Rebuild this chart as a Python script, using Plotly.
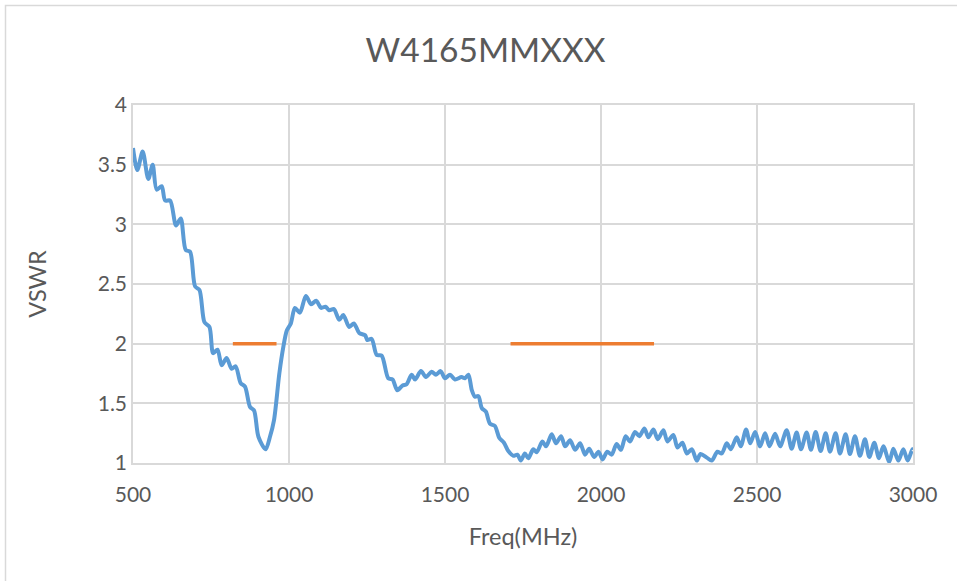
import plotly.graph_objects as go

# ---- data ----
freq_mhz = [
    500, 514, 531, 549, 563, 576, 592, 603, 619, 638, 653, 669, 683, 699, 713, 729, 745,
    757, 771, 784, 800, 816, 829, 845, 859, 875, 888, 902, 925, 939, 952, 969, 982, 993,
    1006, 1019, 1035, 1054, 1071, 1087, 1103, 1117, 1129, 1144, 1161, 1174, 1193, 1208,
    1225, 1244, 1251, 1265, 1281, 1297, 1318, 1332, 1347, 1364, 1377, 1393, 1404, 1423,
    1439, 1457, 1471, 1486, 1500, 1516, 1532, 1553, 1564, 1575, 1586, 1596, 1607, 1618,
    1631, 1644, 1660, 1674, 1689, 1703, 1719, 1732, 1743, 1756, 1767, 1783, 1794, 1812,
    1824, 1842, 1856, 1872, 1885, 1901, 1917, 1933, 1949, 1962, 1978, 1992, 2005, 2020,
    2034, 2050, 2064, 2079, 2093, 2109, 2123, 2139, 2152, 2168, 2182, 2200, 2213, 2232,
    2245, 2261, 2275, 2291, 2307, 2319, 2339, 2355, 2373, 2387, 2403, 2416, 2435, 2448,
    2465, 2478, 2494, 2510, 2526, 2540, 2558, 2574, 2595, 2611, 2627, 2641, 2659, 2673,
    2688, 2704, 2720, 2734, 2752, 2766, 2784, 2798, 2814, 2830, 2846, 2860, 2876, 2891,
    2905, 2924, 2937, 2953, 2969, 2983, 2998, 3000,
]
vswr = [
    3.64, 3.455, 3.61, 3.38, 3.50, 3.29, 3.32, 3.20, 3.20, 2.99, 3.05, 2.785, 2.77, 2.48, 2.45, 2.18, 2.14,
    1.92, 1.95, 1.82, 1.88, 1.79, 1.81, 1.67, 1.64, 1.47, 1.44, 1.22, 1.115, 1.22, 1.36, 1.75, 1.975, 2.11,
    2.17, 2.30, 2.26, 2.40, 2.33, 2.36, 2.30, 2.31, 2.28, 2.29, 2.20, 2.24, 2.14, 2.17,
    2.09, 2.07, 2.03, 2.04, 1.905, 1.90, 1.71, 1.70, 1.61, 1.65, 1.66, 1.74, 1.70, 1.77,
    1.72, 1.765, 1.74, 1.77, 1.71, 1.74, 1.70, 1.72, 1.71, 1.74, 1.61, 1.555, 1.56, 1.46,
    1.43, 1.33, 1.31, 1.21, 1.17, 1.10, 1.06, 1.07, 1.02, 1.08, 1.04, 1.115, 1.09, 1.18,
    1.14, 1.24, 1.165, 1.225, 1.14, 1.19, 1.11, 1.165, 1.07, 1.12, 1.05, 1.095, 1.03, 1.095,
    1.07, 1.16, 1.11, 1.225, 1.18, 1.26, 1.225, 1.29, 1.215, 1.28, 1.20, 1.275, 1.18, 1.235,
    1.13, 1.17, 1.08, 1.115, 1.02, 1.075, 1.045, 1.02, 1.095, 1.08, 1.165, 1.115, 1.215, 1.14,
    1.28, 1.165, 1.26, 1.14, 1.25, 1.14, 1.245, 1.14, 1.275, 1.12, 1.255, 1.115, 1.255, 1.11,
    1.26, 1.10, 1.25, 1.095, 1.25, 1.08, 1.24, 1.075, 1.225, 1.06, 1.20, 1.05, 1.17, 1.04,
    1.14, 1.01, 1.12, 1.02, 1.115, 1.02, 1.115, 1.11,
]
spec_freq = [820, 960, None, 1710, 2170]
spec_vswr = [2, 2, None, 2, 2]

x_ticks = [500, 1000, 1500, 2000, 2500, 3000]
y_ticks = [1, 1.5, 2, 2.5, 3, 3.5, 4]

TEXT = "#595959"
GRID = "#D9D9D9"
FONT = "Lato"

fig = go.Figure()
fig.add_trace(go.Scatter(
    x=freq_mhz, y=vswr, mode="lines",
    line=dict(color="#5B9BD5", width=4, shape="spline", smoothing=0.8),
    showlegend=False, hoverinfo="x+y",
))
fig.add_trace(go.Scatter(
    x=spec_freq, y=spec_vswr, mode="lines",
    line=dict(color="#ED7D31", width=3.5),
    showlegend=False, hoverinfo="x+y",
))

L, R, T, B = 133, 913, 105, 463
W, H = 957, 581
pw, ph = R - L, B - T

fig.update_layout(
    width=W, height=H,
    margin=dict(l=L, r=W - R, t=T, b=H - B, pad=0),
    paper_bgcolor="white", plot_bgcolor="white",
    font=dict(family=FONT, color=TEXT),
    title=dict(text="W4165MMXXX", x=485.5 / W, xref="container", xanchor="center",
               y=1 - 50 / H, yref="container", yanchor="middle",
               font=dict(family=FONT, size=33.5, color=TEXT)),
    xaxis=dict(range=[500, 3000], tickvals=x_ticks, showgrid=True, gridcolor=GRID, gridwidth=1.5,
               showline=True, linecolor=GRID, linewidth=1.5, mirror=True, zeroline=False,
               ticks="", tickfont=dict(family=FONT, size=21, color=TEXT), ticklabelstandoff=12,
               title=dict(text="Freq(MHz)", font=dict(family=FONT, size=23.5, color=TEXT), standoff=24)),
    yaxis=dict(range=[1, 4], tickvals=y_ticks, showgrid=True, gridcolor=GRID, gridwidth=1.5,
               showline=True, linecolor=GRID, linewidth=1.5, mirror=True, zeroline=False,
               ticks="", tickfont=dict(family=FONT, size=21, color=TEXT),
               title=dict(text="VSWR", font=dict(family=FONT, size=23.5, color=TEXT), standoff=44)),
    shapes=[dict(type="rect", xref="paper", yref="paper",
                 x0=(5.5 - L) / pw, x1=(990 - L) / pw,
                 y0=(B - 620) / ph, y1=(B - 5.5) / ph,
                 line=dict(color=GRID, width=1.5), fillcolor="rgba(0,0,0,0)", layer="below")],
)

fig.write_html("out.html", config={"displayModeBar": False},
               post_script="document.body.style.margin='0';document.body.style.overflow='hidden';")
